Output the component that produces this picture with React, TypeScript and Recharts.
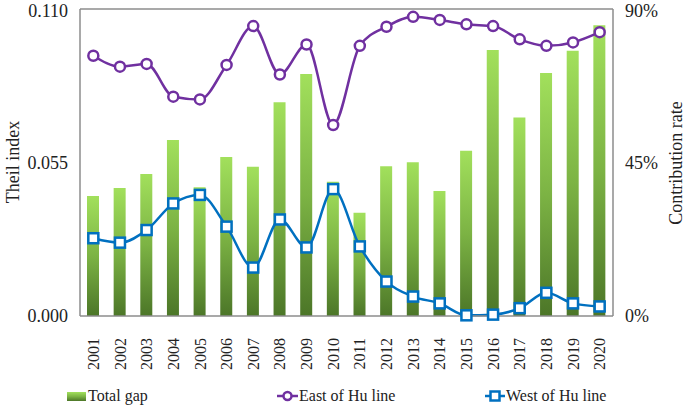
import React from 'react';
import { Bar, ComposedChart, Line, ReferenceLine, XAxis, YAxis } from 'recharts';

const YEARS = ['2001', '2002', '2003', '2004', '2005', '2006', '2007', '2008', '2009', '2010',
  '2011', '2012', '2013', '2014', '2015', '2016', '2017', '2018', '2019', '2020'];
const TOTAL_GAP = [0.0430, 0.0459, 0.0509, 0.0631, 0.0461, 0.0570, 0.0535, 0.0766, 0.0867, 0.0481,
  0.0370, 0.0537, 0.0551, 0.0448, 0.0592, 0.0953, 0.0711, 0.0871, 0.0950, 0.1042];
const EAST = [76.3, 73.1, 73.9, 64.3, 63.5, 73.6, 85.0, 70.8, 79.6, 56.0,
  79.2, 84.8, 87.7, 86.8, 85.5, 85.0, 81.1, 79.2, 80.2, 83.2];
const WEST = [22.8, 21.5, 25.2, 33.0, 35.5, 26.2, 14.2, 28.3, 20.1, 37.2,
  20.4, 10.1, 5.7, 3.7, 0.2, 0.4, 2.3, 6.8, 3.7, 2.8];
const LEFT_TICKS = [0, 0.055, 0.11];
const RIGHT_TICKS = [0, 45, 90];

const FONT = '"Liberation Serif", "Times New Roman", serif';
const PURPLE = '#7030a0';
const BLUE = '#0070c0';
const AXIS = '#8c8c8c';

const rows = YEARS.map((year, i) => ({ year, total: TOTAL_GAP[i], east: EAST[i], west: WEST[i] }));

const YearTick = ({ x, y, payload }: any) => (
  <g transform={`translate(${x},${y})`}>
    <text transform="rotate(-90)" x={-14} dy="0.35em" textAnchor="end"
      fontSize={16} fontFamily={FONT} fill="#222">{payload.value}</text>
  </g>
);

const SquareDot = ({ cx, cy }: any) => (
  <rect x={cx - 5} y={cy - 5} width={10} height={10} fill="#fff" stroke={BLUE} strokeWidth={2.5} />
);

const GreenGradient = ({ id }: { id: string }) => (
  <linearGradient id={id} x1="0" y1="0" x2="0" y2="1">
    <stop offset="0%" stopColor="#a2e05c" />
    <stop offset="50%" stopColor="#7cb344" />
    <stop offset="100%" stopColor="#4c7628" />
  </linearGradient>
);

export default function App() {
  return (
    <div style={{ position: 'absolute', left: 0, top: 0, width: 685, height: 407, fontFamily: FONT }}>
      <ComposedChart width={685} height={407} data={rows} margin={{ top: 9, right: 0, left: 0, bottom: 0 }}>
        <defs>
          <GreenGradient id="barFill" />
        </defs>
        <XAxis dataKey="year" height={91} tickLine={false} interval={0}
          axisLine={{ stroke: AXIS, strokeWidth: 1.5 }} tick={<YearTick />} />
        <YAxis yAxisId="l" domain={[0, 0.11]} ticks={LEFT_TICKS} width={80}
          tickFormatter={(v: number) => v.toFixed(3)} tickSize={0} tickMargin={12}
          axisLine={{ stroke: AXIS, strokeWidth: 1.5 }}
          tick={{ fontSize: 18, fontFamily: FONT, fill: '#222' }}
          label={{
            content: () => (
              <text transform="translate(13,162) rotate(-90)" textAnchor="middle" dy="0.35em"
                fontSize={18} fontFamily={FONT} fill="#222">Theil index</text>
            ),
          }} />
        <YAxis yAxisId="r" orientation="right" domain={[0, 90]} ticks={RIGHT_TICKS} width={72}
          tickFormatter={(v: number) => `${v}%`} tickSize={0} tickMargin={12}
          axisLine={{ stroke: AXIS, strokeWidth: 1.5 }}
          tick={{ fontSize: 18, fontFamily: FONT, fill: '#222' }}
          label={{
            content: () => (
              <text transform="translate(676,163) rotate(-90)" textAnchor="middle" dy="0.35em"
                fontSize={18} fontFamily={FONT} fill="#222">Contribution rate</text>
            ),
          }} />
        <ReferenceLine yAxisId="l" y={0.11} stroke={AXIS} strokeWidth={1.5} />
        <Bar yAxisId="l" dataKey="total" barSize={12} fill="url(#barFill)" isAnimationActive={false} />
        <Line yAxisId="r" dataKey="east" type="monotone" stroke={PURPLE} strokeWidth={2.5}
          dot={{ r: 5, fill: '#fff', stroke: PURPLE, strokeWidth: 2.5 }} isAnimationActive={false} />
        <Line yAxisId="r" dataKey="west" type="monotone" stroke={BLUE} strokeWidth={2.5}
          dot={<SquareDot />} isAnimationActive={false} />
      </ComposedChart>
      <svg width={685} height={407} style={{ position: 'absolute', left: 0, top: 0, pointerEvents: 'none' }}>
        <defs>
          <GreenGradient id="legendFill" />
        </defs>
        <rect x={67} y={392} width={19} height={9} fill="url(#legendFill)" />
        <text x={88} y={401} fontSize={16} fontFamily={FONT} fill="#222">Total gap</text>
        <line x1={277} y1={396} x2={298} y2={396} stroke={PURPLE} strokeWidth={2.5} />
        <circle cx={287.5} cy={396} r={4} fill="#fff" stroke={PURPLE} strokeWidth={2.5} />
        <text x={299} y={401} fontSize={16} fontFamily={FONT} fill="#222">East of Hu line</text>
        <line x1={485} y1={396} x2={505} y2={396} stroke={BLUE} strokeWidth={2.5} />
        <rect x={490.5} y={391.5} width={9} height={9} fill="#fff" stroke={BLUE} strokeWidth={2.5} />
        <text x={506} y={401} fontSize={16} fontFamily={FONT} fill="#222">West of Hu line</text>
      </svg>
    </div>
  );
}
